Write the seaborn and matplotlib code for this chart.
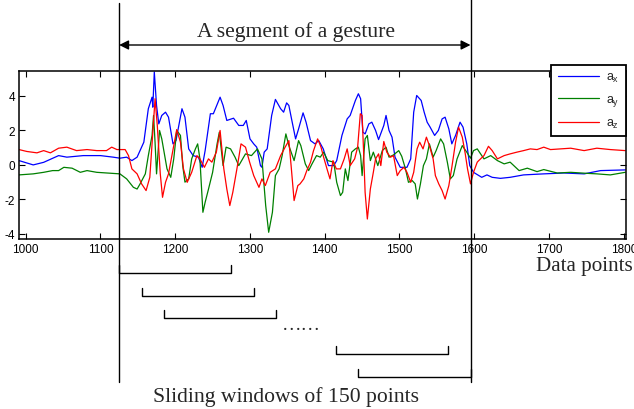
import numpy as np
import pandas as pd
import matplotlib
matplotlib.use("Agg")
import matplotlib.pyplot as plt
import matplotlib.transforms as mtransforms
import seaborn as sns

# ---------------- data ----------------
ax_x = [991, 1010, 1024, 1044, 1055, 1077, 1100, 1117, 1126, 1135, 1142, 1149, 1158, 1164, 1169, 1170, 1172,
        1175, 1178, 1182, 1187, 1191, 1197, 1201, 1209, 1213, 1218, 1224, 1231, 1236, 1240, 1247, 1251, 1260,
        1264, 1269, 1278, 1285, 1291, 1295, 1300, 1305, 1309, 1314, 1316, 1319, 1323, 1329, 1334, 1341, 1345,
        1349, 1352, 1356, 1361, 1365, 1371, 1375, 1381, 1387, 1392, 1398, 1405, 1412, 1416, 1423, 1430, 1434,
        1441, 1445, 1448, 1451, 1454, 1459, 1463, 1468, 1472, 1479, 1482, 1486, 1490, 1494, 1501, 1510, 1515,
        1519, 1523, 1529, 1533, 1537, 1541, 1547, 1552, 1557, 1561, 1566, 1570, 1575, 1581, 1585, 1590, 1594,
        1599, 1610, 1617, 1624, 1635, 1648, 1666, 1693, 1720, 1747, 1769, 1802]
ax_y = [0.25, 0.0, 0.15, 0.54, 0.45, 0.54, 0.54, 0.45, 0.39, 0.45, 0.25, 0.45, 1.32, 3.26, 3.93, 3.35, 5.39,
        3.45, 2.38, 2.87, 3.06, 2.77, 1.22, 1.41, 3.26, 2.77, 0.93, 0.54, 0.45, -0.14, 0.83, 2.97, 2.97, 3.93,
        3.45, 2.58, 2.71, 2.29, 2.29, 2.58, 1.51, 1.22, 1.03, -0.04, -0.14, 0.74, 0.93, 2.87, 3.80, 3.26, 3.06,
        3.60, 3.45, 2.58, 1.51, 2.09, 3.02, 2.48, 1.41, 1.22, 1.41, 0.93, -0.04, -0.04, 0.25, 1.71, 2.67, 2.87,
        3.74, 4.13, 3.84, 1.90, 1.80, 2.38, 2.48, 2.0, 1.47, 2.29, 2.87, 2.0, 1.61, 0.45, -0.14, -0.14, 0.35,
        3.06, 4.03, 3.74, 3.06, 2.48, 2.19, 1.71, 2.0, 2.67, 2.77, 2.09, 1.22, 1.71, 2.48, 2.19, 1.22, -0.04,
        -0.43, -0.72, -0.58, -0.72, -0.78, -0.72, -0.58, -0.52, -0.47, -0.52, -0.33, -0.29]

ay_x = [991, 1010, 1024, 1036, 1044, 1051, 1062, 1073, 1082, 1095, 1113, 1126, 1135, 1144, 1149, 1153, 1160,
        1164, 1169, 1171, 1173, 1175, 1179, 1182, 1189, 1194, 1198, 1202, 1207, 1210, 1213, 1218, 1222, 1227,
        1230, 1233, 1237, 1240, 1244, 1250, 1256, 1259, 1264, 1268, 1274, 1280, 1285, 1294, 1302, 1310, 1316,
        1321, 1325, 1330, 1334, 1339, 1343, 1348, 1352, 1359, 1365, 1368, 1374, 1378.5, 1383, 1389, 1394,
        1398.5, 1404, 1412, 1416, 1421, 1424, 1427.5, 1431, 1436, 1441, 1445, 1448, 1450, 1454, 1457, 1461,
        1465, 1471, 1477, 1482, 1486, 1492, 1499, 1503, 1508, 1512, 1517, 1521, 1524, 1528, 1532, 1536, 1540,
        1545, 1549, 1555, 1559, 1564, 1568, 1572, 1577, 1584, 1590, 1595, 1599, 1604, 1613, 1622, 1631, 1640,
        1648, 1660, 1671, 1684, 1693, 1711, 1729, 1747, 1764, 1782, 1802]
ay_y = [-0.58, -0.52, -0.43, -0.33, -0.33, -0.14, -0.19, -0.43, -0.33, -0.43, -0.48, -0.52, -0.81, -1.30,
        -1.40, -1.10, -0.52, 0.54, 1.71, 2.87, 1.32, -0.52, 2.0, 1.51, -0.23, -0.72, 0.35, 2.0, 1.71, -0.04,
        -1.0, -0.81, 0.35, 0.93, 1.22, 0.35, -2.75, -2.17, -1.49, -0.43, 1.22, 1.90, -0.04, 1.03, 0.93, 0.45,
        -0.04, 0.64, 0.54, 0.93, 0.35, -2.36, -3.91, -2.75, -0.62, -0.23, 0.54, 1.80, 1.12, 0.25, 1.41, 1.12,
        0.06, -0.33, 0.06, 0.54, 0.45, 0.74, 0.25, 0.16, -1.01, -1.78, -1.59, -0.23, -0.91, 0.74, 0.93, 1.03,
        0.54, -0.62, 1.51, 1.71, 0.25, 0.74, -0.04, 0.83, 1.03, 0.45, 0.58, 0.83, 0.50, -0.23, -1.01, -0.91,
        -1.10, -1.98, -1.10, -0.04, 0.35, 1.22, 0.45, 0.83, 1.51, 1.22, 0.16, -0.81, -0.62, 0.35, 1.12, 0.74,
        0.39, 0.83, 0.93, 0.35, 0.54, 0.25, 0.06, 0.16, -0.33, -0.19, -0.39, -0.27, -0.47, -0.43, -0.48, -0.52,
        -0.58, -0.43]

az_x = [991, 1001.5, 1015, 1024, 1033, 1044, 1055, 1068, 1082, 1095, 1108, 1115, 1122, 1133, 1137.5, 1142,
        1149, 1155, 1161, 1166, 1170, 1173, 1176, 1180, 1183, 1187, 1191, 1195.5, 1202, 1207, 1211, 1216, 1222,
        1229, 1233, 1239, 1244.5, 1249, 1255, 1260, 1265, 1269, 1273, 1277, 1282.5, 1288, 1294, 1299.5, 1305,
        1312, 1316, 1320.5, 1327, 1334, 1341, 1347, 1352, 1355, 1359, 1364, 1367, 1372, 1376, 1381, 1385,
        1390.5, 1395, 1398.5, 1403, 1407, 1411, 1415.5, 1421, 1426, 1430, 1434, 1440, 1444, 1447.6, 1450, 1452,
        1454, 1457, 1461, 1465, 1468, 1472, 1475, 1479, 1483, 1488, 1492, 1497, 1501, 1506, 1510, 1515, 1519,
        1523.5, 1527, 1531.5, 1536, 1540, 1545, 1548, 1552.5, 1557, 1561, 1566, 1570, 1575, 1579, 1584, 1588,
        1591, 1595, 1599, 1604, 1606, 1613, 1619, 1624, 1631, 1640, 1648, 1657, 1666, 1675, 1684, 1693, 1702,
        1715, 1729, 1747, 1764, 1782, 1802]
az_y = [0.89, 0.78, 0.70, 0.83, 0.70, 0.97, 1.03, 0.83, 0.89, 0.83, 0.83, 1.03, 0.89, 0.89, 0.54, -0.23,
        -0.52, -1.10, -1.49, -0.72, 1.90, 3.84, 2.29, -0.52, -1.88, -1.01, -0.52, 0.54, 2.05, 1.32, -0.23,
        -1.01, -0.43, 0.54, 0.35, -0.14, 0.35, 0.16, 0.74, 2.0, -0.23, -1.40, -2.36, -1.59, -0.23, 1.22, 1.03,
        0.16, -0.62, -1.30, -0.81, -1.20, -0.43, -0.23, 0.54, 1.03, 1.41, -0.04, -2.07, -1.20, -1.10, -0.81,
        -0.33, 0.16, 0.83, 1.51, 1.03, 0.45, -0.23, -0.81, 0.25, -0.23, -0.23, 0.35, 0.93, -0.04, 0.35, 1.03,
        2.97, 2.87, 0.74, -1.59, -3.14, -1.40, -0.43, 0.35, 0.64, -0.04, 1.36, 0.74, 0.45, 0.54, -0.62, -0.33,
        -0.14, -0.43, -1.01, -0.43, 0.93, 1.32, 0.93, 1.61, 1.12, 0.35, -0.62, -1.10, -1.49, -1.98, -1.20,
        -0.14, 1.32, 2.19, 1.61, 0.64, -0.23, -1.10, -0.43, 0.16, 0.25, 0.54, 1.08, 0.83, 0.35, 0.54, 0.64,
        0.74, 0.83, 0.93, 0.89, 1.03, 0.89, 0.93, 0.97, 0.83, 0.97, 0.89, 0.83]

series_names = ["$a_x$", "$a_y$", "$a_z$"]
series_colors = ["#0000ff", "#008000", "#ff0000"]
x_ticks = [1000, 1100, 1200, 1300, 1400, 1500, 1600, 1700, 1800]
y_ticks = [-4, -2, 0, 2, 4]

segment = [1125, 1595]
window_starts = [1125, 1155, 1185, 1415, 1445]
window_len = 150

# ---------------- figure ----------------
sns.set_theme(style="white")
plt.rcParams["font.family"] = ["Liberation Sans", "DejaVu Sans"]
plt.rcParams["axes.unicode_minus"] = False
plt.rcParams["mathtext.fontset"] = "custom"
plt.rcParams["mathtext.rm"] = "Liberation Sans"
plt.rcParams["mathtext.it"] = "Liberation Sans"

fig = plt.figure(figsize=(6.34, 4.10), dpi=100)
ax = fig.add_axes([19 / 634, 1 - 240 / 410, (626 - 19) / 634, (240 - 72) / 410])

df = pd.concat([
    pd.DataFrame({"x": ax_x, "y": ax_y, "s": series_names[0]}),
    pd.DataFrame({"x": ay_x, "y": ay_y, "s": series_names[1]}),
    pd.DataFrame({"x": az_x, "y": az_y, "s": series_names[2]}),
], ignore_index=True)

sns.lineplot(data=df, x="x", y="y", hue="s", palette=series_colors, estimator=None,
             sort=False, linewidth=0.9, ax=ax, legend=True)

ax.set_xlim(991, 1803)
ax.set_ylim(-4.3, 5.45)
ax.set_xticks(x_ticks)
ax.set_yticks(y_ticks)
ax.set_xlabel("")
ax.set_ylabel("")
ax.tick_params(direction="in", length=4, width=0.8, labelsize=8.5, top=True, right=True,
               bottom=True, left=True, pad=3, colors="black")
for sp in ax.spines.values():
    sp.set_color("black")
    sp.set_linewidth(1.1)

leg = ax.legend(loc="upper right", bbox_to_anchor=(1.0, 1.035), frameon=True, fancybox=False,
                fontsize=9, handlelength=3.3, borderpad=0.5, labelspacing=0.7, handletextpad=0.6,
                borderaxespad=0.0)
leg.get_frame().set_edgecolor("black")
leg.get_frame().set_linewidth(1.3)
leg.get_frame().set_alpha(1)

# ---------------- annotations ----------------
bt = mtransforms.blended_transform_factory(ax.transData, fig.transFigure)
serif = ["Liberation Serif", "DejaVu Serif"]

# segment boundary lines
ax.plot([segment[0], segment[0]], [1 - 4 / 410, 1 - 383 / 410], color="black", lw=1.0,
        transform=bt, clip_on=False)
ax.plot([segment[1], segment[1]], [1.0, 1 - 383 / 410], color="black", lw=1.0,
        transform=bt, clip_on=False)

# double arrow
ax.annotate("", xy=(segment[1], 1 - 46 / 410), xytext=(segment[0], 1 - 46 / 410),
            xycoords=bt, textcoords=bt,
            arrowprops=dict(arrowstyle="<|-|>", color="black", lw=1.0, mutation_scale=14,
                            shrinkA=0, shrinkB=0))
fig.text(296 / 634, 1 - 32 / 410, "A segment of a gesture", family=serif, fontsize=15.6,
         ha="center", va="center")

# sliding windows (brackets)
bracket_bottoms = [273.8, 296.7, 318.8, 354.9, 377.7]
for s0, yb in zip(window_starts, bracket_bottoms):
    yb_f = 1 - yb / 410
    yt_f = 1 - (yb - 8) / 410
    ax.plot([s0, s0, s0 + window_len, s0 + window_len], [yt_f, yb_f, yb_f, yt_f],
            color="black", lw=1.0, transform=bt, clip_on=False)

fig.text(301 / 634, 1 - 325 / 410, "……", family=serif, fontsize=14, ha="center", va="center")
fig.text(633 / 634, 1 - 267 / 410, "Data points", family=serif, fontsize=15.2, ha="right", va="center")
fig.text(286 / 634, 1 - 397 / 410, "Sliding windows of 150 points", family=serif, fontsize=15.6,
         ha="center", va="center")

fig.savefig("out.png", dpi=100)
